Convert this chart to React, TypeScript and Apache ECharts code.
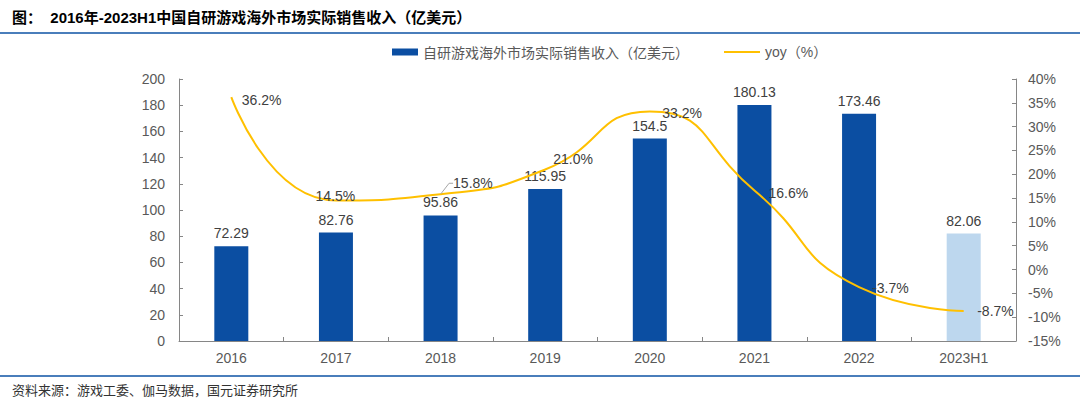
import React, { useEffect, useRef } from "react";
import * as echarts from "echarts";

const categories = ["2016", "2017", "2018", "2019", "2020", "2021", "2022", "2023H1"];
const revenue = [72.29, 82.76, 95.86, 115.95, 154.5, 180.13, 173.46, 82.06];
const yoy = [36.2, 14.5, 15.8, 21.0, 33.2, 16.6, -3.7, -8.7];
const leftTicks = { min: 0, max: 200, interval: 20 };
const rightTicks = { min: -15, max: 40, interval: 5 };

const barName = "自研游戏海外市场实际销售收入（亿美元）";
const lineName = "yoy（%）";
const titleText = "图：  2016年-2023H1中国自研游戏海外市场实际销售收入（亿美元）";
const sourceText = "资料来源：游戏工委、伽马数据，国元证券研究所";

// label nudges (layout only)
const yoyLabelShift: number[][] = [
  [5, 3], [-26, -4], [7, -11], [2.5, -10.5], [7, 2], [8.5, 2.5], [7.5, 1], [8, 0.5],
];

const BAR = "#0b4ea2";
const BAR_LIGHT = "#bdd7ee";
const LINE = "#ffc000";
const AXIS = "#868686";
const TXT = "#595959";
const FONT = "'Liberation Sans', Arial, 'Noto Sans CJK SC', sans-serif";

export default function App() {
  const ref = useRef<HTMLDivElement>(null);
  useEffect(() => {
    if (!ref.current) return;
    const chart = echarts.init(ref.current, null, { renderer: "svg" });
    chart.setOption({
      animation: false,
      backgroundColor: "#ffffff",
      textStyle: { fontFamily: FONT },
      grid: { left: 179, right: 64, top: 79, bottom: 58 },
      legend: [
        {
          left: 392,
          top: 45,
          padding: 0,
          itemWidth: 26,
          itemHeight: 7,
          itemGap: 0,
          data: [{ name: barName, icon: "rect" }],
          textStyle: { color: TXT, fontSize: 14, fontFamily: "'Noto Sans CJK SC', sans-serif" },
        },
        {
          left: 724,
          top: 45,
          padding: 0,
          itemWidth: 36,
          itemHeight: 2,
          data: [{ name: lineName, icon: "rect", itemStyle: { color: LINE, opacity: 1 } }],
          textStyle: { color: TXT, fontSize: 14, fontFamily: FONT },
        },
      ],
      xAxis: {
        type: "category",
        data: categories,
        boundaryGap: true,
        axisLine: { lineStyle: { color: AXIS, width: 1 } },
        axisTick: { show: true, inside: true, length: 4, alignWithLabel: false, lineStyle: { color: AXIS } },
        axisLabel: { color: TXT, fontSize: 14, margin: 10, fontFamily: FONT },
        splitLine: { show: false },
      },
      yAxis: [
        {
          type: "value",
          min: leftTicks.min,
          max: leftTicks.max,
          interval: leftTicks.interval,
          axisLine: { show: true, lineStyle: { color: AXIS } },
          axisTick: { show: true, inside: true, length: 4, lineStyle: { color: AXIS } },
          axisLabel: { color: TXT, fontSize: 14, margin: 14, fontFamily: FONT },
          splitLine: { show: false },
        },
        {
          type: "value",
          min: rightTicks.min,
          max: rightTicks.max,
          interval: rightTicks.interval,
          position: "right",
          axisLine: { show: true, lineStyle: { color: AXIS } },
          axisTick: { show: true, inside: true, length: 4, lineStyle: { color: AXIS } },
          axisLabel: { color: TXT, fontSize: 14, margin: 12, formatter: "{value}%", fontFamily: FONT },
          splitLine: { show: false },
        },
      ],
      series: [
        {
          name: barName,
          type: "bar",
          yAxisIndex: 0,
          barWidth: 34,
          itemStyle: { color: BAR },
          data: revenue.map((v, i) => ({
            value: v,
            itemStyle: { color: i === revenue.length - 1 ? BAR_LIGHT : BAR },
          })),
          label: {
            show: true,
            position: "top",
            distance: 6,
            color: "#404040",
            fontSize: 14,
            fontFamily: FONT,
          },
          z: 2,
        },
        {
          name: lineName,
          type: "line",
          yAxisIndex: 1,
          smooth: 0.55,
          symbol: "circle",
          symbolSize: 1,
          showSymbol: true,
          lineStyle: { color: LINE, width: 2 },
          itemStyle: { color: "rgba(255,192,0,0)", borderWidth: 0 },
          data: yoy.map((v, i) => ({
            value: v,
            labelLine: { show: i === 2 },
          })),
          label: {
            show: true,
            position: "right",
            distance: 5,
            color: "#404040",
            fontSize: 14,
            fontFamily: FONT,
            formatter: (p: any) => `${Number(p.value).toFixed(1)}%`,
          },
          labelLine: { show: false, lineStyle: { color: "#a6a6a6", width: 1 }, length2: 4 },
          labelLayout: (p: any) => ({
            dx: yoyLabelShift[p.dataIndex][0],
            dy: yoyLabelShift[p.dataIndex][1],
          }),
          z: 3,
        },
      ],
      graphic: [
        {
          type: "text",
          left: 12,
          top: 10,
          style: {
            text: titleText,
            fill: "#000000",
            font: "bold 15px 'Liberation Sans', 'Noto Sans CJK SC', sans-serif",
          },
        },
        {
          type: "rect",
          shape: { x: 0, y: 32, width: 1080, height: 2 },
          style: { fill: "#4a7ebb" },
        },
        {
          type: "rect",
          shape: { x: 0, y: 375, width: 1080, height: 2 },
          style: { fill: "#4a7ebb" },
        },
        {
          type: "text",
          left: 12,
          top: 383,
          style: {
            text: sourceText,
            fill: "#333333",
            font: "13px 'Noto Sans CJK SC', sans-serif",
          },
        },
      ],
    });
    return () => chart.dispose();
  }, []);
  return (
    <div
      ref={ref}
      style={{ position: "fixed", left: 0, top: 0, width: 1080, height: 399, background: "#fff" }}
    />
  );
}
